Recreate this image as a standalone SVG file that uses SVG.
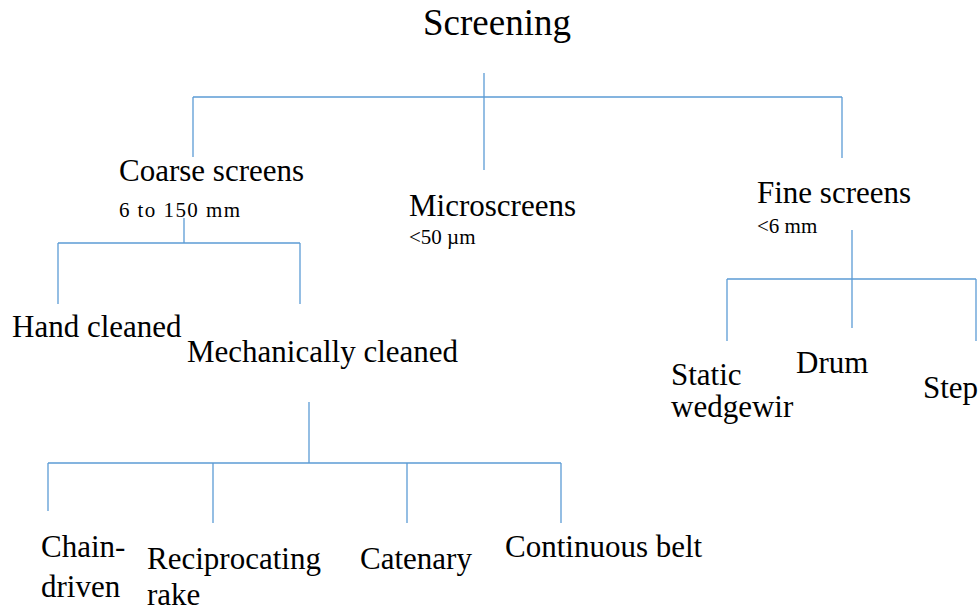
<svg xmlns="http://www.w3.org/2000/svg" width="980" height="612" viewBox="0 0 980 612">
<style>
.t1{font-size:37px}
.t2{font-size:31px}
.t3{font-size:21px}
.c line{stroke:#5B9BD5;stroke-width:1.3;fill:none}
</style>
<rect width="980" height="612" fill="#fff"/>
<g id="connectors" class="c">
<line x1="484" y1="73" x2="484" y2="170"/>
<line x1="193" y1="97" x2="842" y2="97"/>
<line x1="193" y1="97" x2="193" y2="157"/>
<line x1="842" y1="97" x2="842" y2="158"/>
<line x1="184" y1="218" x2="184" y2="243"/>
<line x1="58" y1="243" x2="300" y2="243"/>
<line x1="58" y1="243" x2="58" y2="304"/>
<line x1="300" y1="243" x2="300" y2="304"/>
<line x1="852" y1="230" x2="852" y2="328"/>
<line x1="727" y1="279" x2="976" y2="279"/>
<line x1="727" y1="279" x2="727" y2="341"/>
<line x1="976" y1="279" x2="976" y2="341"/>
<line x1="309" y1="402" x2="309" y2="463"/>
<line x1="48" y1="463" x2="561" y2="463"/>
<line x1="48" y1="463" x2="48" y2="511"/>
<line x1="213" y1="463" x2="213" y2="523"/>
<line x1="407" y1="463" x2="407" y2="523"/>
<line x1="561" y1="463" x2="561" y2="523"/>
</g>
<g font-family="'Liberation Serif', 'DejaVu Serif', serif" fill="#000">
<g id="screening"><text class="t1" x="423" y="35">Screening</text></g>
<g id="coarse"><text class="t2" x="119" y="181">Coarse screens</text><text class="t3" x="119" y="217" textLength="121" lengthAdjust="spacing">6 to 150 mm</text></g>
<g id="micro"><text class="t2" x="409" y="216">Microscreens</text><text class="t3" x="409" y="244">&lt;50 µm</text></g>
<g id="fine"><text class="t2" x="757" y="203">Fine screens</text><text class="t3" x="757" y="233">&lt;6 mm</text></g>
<g id="hand"><text class="t2" x="12" y="337">Hand cleaned</text></g>
<g id="mech"><text class="t2" x="187" y="362">Mechanically cleaned</text></g>
<g id="static"><text class="t2" x="671" y="385">Static</text><text class="t2" x="671" y="417">wedgewir</text></g>
<g id="drum"><text class="t2" x="796" y="373">Drum</text></g>
<g id="step"><text class="t2" x="923" y="398">Step</text></g>
<g id="chain"><text class="t2" x="41" y="557">Chain-</text><text class="t2" x="41" y="597">driven</text></g>
<g id="recip"><text class="t2" x="147" y="569">Reciprocating</text><text class="t2" x="147" y="605">rake</text></g>
<g id="catenary"><text class="t2" x="360" y="569">Catenary</text></g>
<g id="continuous"><text class="t2" x="505" y="557">Continuous belt</text></g>
</g>
</svg>
